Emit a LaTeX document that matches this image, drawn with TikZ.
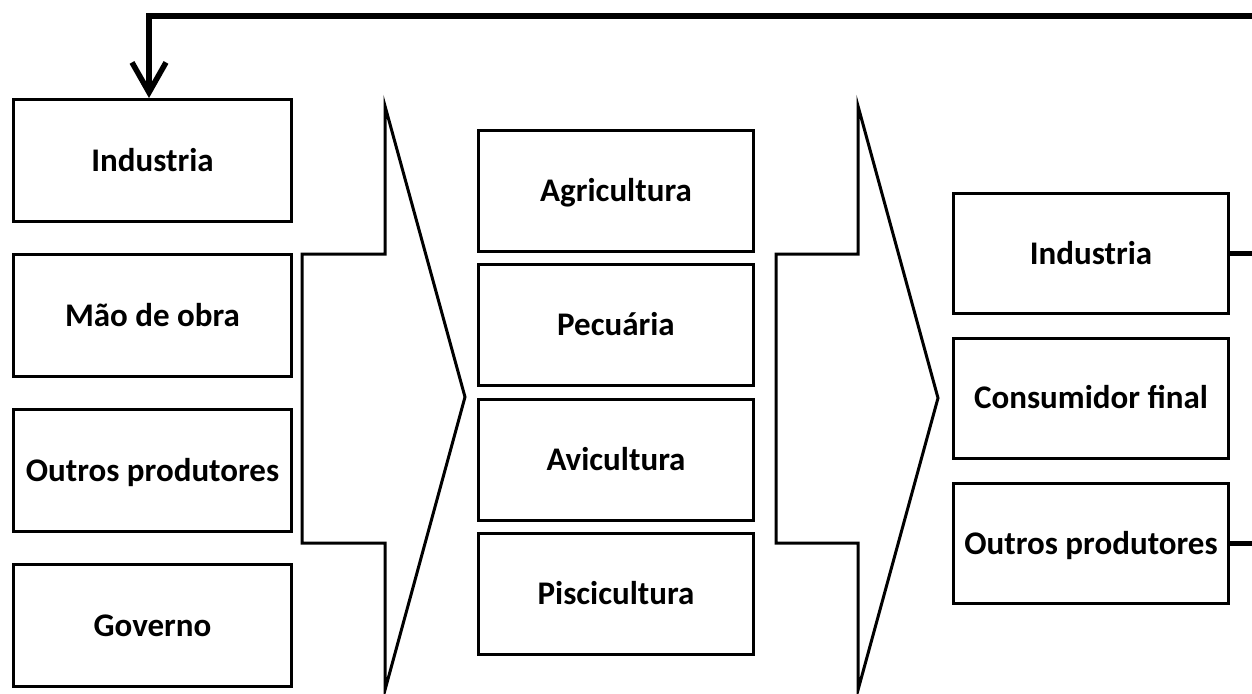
\documentclass[tikz,border=0pt]{standalone}
\usepackage{fontspec}
\setmainfont{Carlito}
\usetikzlibrary{arrows.meta}
\begin{document}
\begin{tikzpicture}[x=1pt,y=-1pt,
  box/.style={draw=black, line width=3pt, fill=white, inner sep=0pt,
    font=\bfseries\fontsize{33}{33}\selectfont, text height=21pt, text depth=0pt},
  lbox/.style={box, minimum width=278pt, minimum height=122pt},
  mbox/.style={box, minimum width=275pt, minimum height=121pt},
  rbox/.style={box, minimum width=275pt, minimum height=120pt},
  chevron/.style={draw=black, line width=3pt, line join=miter, miter limit=10},
  link/.style={draw=black, line width=5.5pt},
  back/.style={link, -{Straight Barb[length=30pt,width=34pt]}}]
\useasboundingbox (0,0) rectangle (1252,693);

% inputs
\node[lbox] (L1) at (152.5,160.5) {Industria};
\node[lbox] (L2) at (152.5,315.5) {Mão de obra};
\node[lbox] (L3) at (152.5,470.5) {Outros produtores};
\node[lbox] (L4) at (152.5,625.5) {Governo};

% first flow arrow
\draw[chevron] (385,106) -- (385,254) -- (302,254) -- (302,543) -- (385,543)
  -- (385,690) -- (465,397) -- cycle;

% production activities
\node[mbox] (M1) at (616,191) {Agricultura};
\node[mbox] (M2) at (616,325.3) {Pecuária};
\node[mbox] (M3) at (616,459.7) {Avicultura};
\node[mbox] (M4) at (616,594) {Piscicultura};

% second flow arrow
\draw[chevron] (858,106) -- (858,254) -- (776,254) -- (776,543) -- (858,543)
  -- (858,690) -- (938,398) -- cycle;

% destinations
\node[rbox] (R1) at (1091,253.5) {Industria};
\node[rbox] (R2) at (1091,398) {Consumidor final};
\node[rbox] (R3) at (1091,543.5) {Outros produtores};

% feedback lines leaving on the right
\coordinate (e1) at (1262,253.5);
\coordinate (e3) at (1262,543.5);
\coordinate (etop) at (1262,16);
\coordinate (corner) at (149,16);
\draw[link] (R1.east) -- (e1);
\draw[link] (R3.east) -- (e3);
\draw[back] (etop) -- (corner) -- (corner |- L1.north);
\end{tikzpicture}
\end{document}
